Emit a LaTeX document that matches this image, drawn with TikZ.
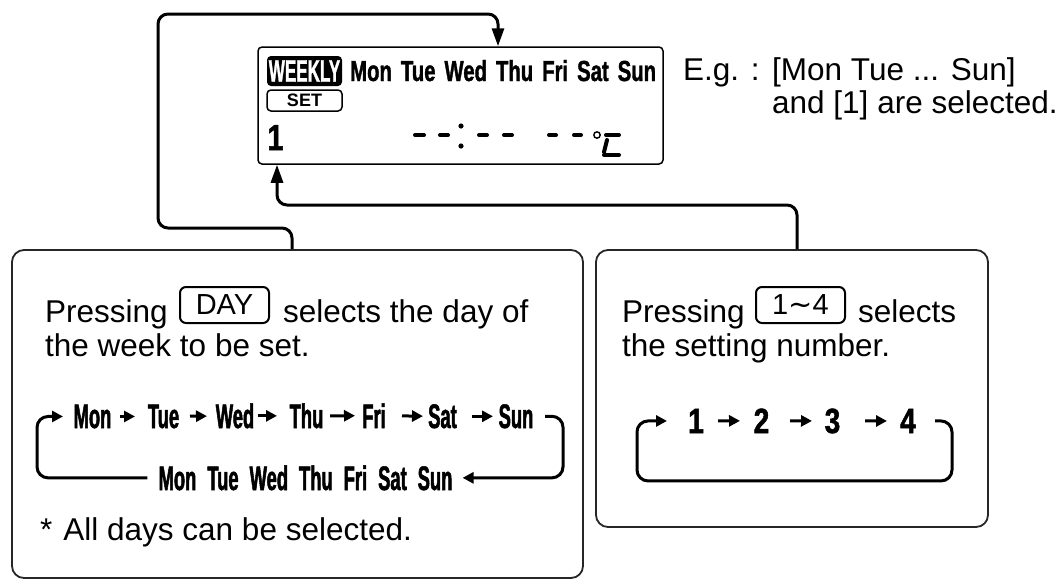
\documentclass[tikz,border=0pt]{standalone}
\usepackage{fontspec}
\setmainfont{Liberation Sans}
\newfontfamily\flowfont[FakeStretch=0.54,FakeBold=1.5]{Liberation Sans}
\newfontfamily\lcdfont[FakeStretch=0.7,FakeBold=1.2]{Liberation Sans}
\newfontfamily\wkfont[FakeStretch=0.55,FakeBold=1]{Liberation Sans}
\newfontfamily\digfont[FakeStretch=0.8,FakeBold=1.5]{Liberation Sans}
\newfontfamily\symfont{DejaVu Sans}
\usetikzlibrary{arrows.meta}
\begin{document}
\begin{tikzpicture}[x=1pt,y=-1pt,
  panel/.style={draw=black!85, line width=1.8pt, rounded corners=12pt, inner sep=0pt},
  keybox/.style={draw, line width=2pt, rounded corners=6pt, inner sep=0pt, minimum width=89pt, minimum height=36pt, font=\fontsize{29}{30}\selectfont},
  body/.style={anchor=base west, inner sep=0pt, font=\fontsize{31.5}{36}\selectfont},
  day/.style={anchor=base, inner sep=0pt, font=\flowfont\bfseries\fontsize{34}{34}\selectfont},
  digit/.style={anchor=base, inner sep=0pt, font=\digfont\bfseries\fontsize{35}{35}\selectfont},
  conn/.style={line width=3pt, rounded corners=10pt, -{Triangle[length=18pt,width=12pt]}},
  loopline/.style={line width=3pt, rounded corners=11pt, -{Triangle[length=11pt,width=11pt]}},
  flowarr/.style 2 args={line width=3pt, shorten <=#1, shorten >=#2, -{Triangle[length=11pt,width=11pt]}},
  seg/.style={line width=4pt, line cap=round}]
\useasboundingbox (0,0) rectangle (1063,587);

% panels
\node[panel, minimum width=571pt, minimum height=328pt] (lbox) at (297.5,414) {};
\node[panel, minimum width=392pt, minimum height=277pt] (rbox) at (792,388.5) {};
\node[draw, line width=1.5pt, rounded corners=4pt, minimum width=405pt, minimum height=117pt, inner sep=0pt] (lcd) at (460.5,105.5) {};

% LCD contents
\node[fill=black, rounded corners=4pt, minimum width=75pt, minimum height=30pt, inner sep=0pt, text=white, font=\wkfont\bfseries\fontsize{31}{31}\selectfont] (weekly) at (304.5,71) {WEEKLY};
\node[draw, line width=1.5pt, rounded corners=4pt, minimum width=75pt, minimum height=21pt, inner sep=0pt, font=\bfseries\fontsize{18}{18}\selectfont] (setbox) at (304.5,100.5) {SET};
\node[anchor=base west, inner sep=0pt, font=\lcdfont\bfseries\fontsize{29}{29}\selectfont] (lcddays) at (350,81) {\spaceskip=9pt Mon Tue Wed Thu Fri Sat Sun};
\node[digit, font=\digfont\bfseries\fontsize{36}{36}\selectfont] (setno) at (275.5,150) {1};
\draw[seg] (415,135)--(424,135);
\draw[seg] (440,135)--(448,135);
\fill (461,126) circle (2.6);
\fill (461,146) circle (2.6);
\draw[seg] (479,135)--(487,135);
\draw[seg] (504,135)--(512,135);
\draw[seg] (549,135)--(556,135);
\draw[seg] (574,135)--(581,135);
\draw[line width=1.4pt] (597,135) circle (3.2);
\draw[seg] (606,135)--(619,135);
\draw[seg] (607,140)--(604,152);
\draw[seg] (604,155)--(619,155);

% connectors
\coordinate (a0) at (292,0);
\coordinate (a1) at (158,228);
\coordinate (a2) at (498,14);
\draw[conn] (lbox.north -| a0) |- (a1) |- (a2) -- (lcd.north -| a2);
\coordinate (b0) at (797,0);
\coordinate (b1) at (277,205);
\draw[conn] (rbox.north -| b0) |- (b1) -- (lcd.south -| b1);

% example text
\node[body] (eg) at (683,80) {E.g. :};
\node[body] (eg2) at (772,80) {[Mon Tue ... Sun]};
\node[body] (eg3) at (772,113) {and [1] are selected.};

% left panel text
\node[body] (p1) at (45,322) {Pressing};
\node[keybox] (daykey) at (224.5,305) {DAY};
\node[body] (p1b) at (283,322) {selects the day of};
\node[body] (p2) at (45,356) {the week to be set.};
\node[body] (note) at (40,540) {*\hspace{11pt}All days can be selected.};

% day flow
\node[day] (mon) at (92.5,428) {Mon};
\node[day] (tue) at (163.5,428) {Tue};
\node[day] (wed) at (235,428) {Wed};
\node[day] (thu) at (306.5,428) {Thu};
\node[day] (fri) at (374,428) {Fri};
\node[day] (sat) at (442.5,428) {Sat};
\node[day] (sun) at (516,428) {Sun};
\node[day] (low) at (305.5,490) {\spaceskip=11pt Mon Tue Wed Thu Fri Sat Sun};
\draw[flowarr={27.5pt}{28.5pt}] (mon.center) -- (tue.center);
\draw[flowarr={26.5pt}{28pt}] (tue.center) -- (wed.center);
\draw[flowarr={23pt}{29.5pt}] (wed.center) -- (thu.center);
\draw[flowarr={23.5pt}{19pt}] (thu.center) -- (fri.center);
\draw[flowarr={28pt}{19.5pt}] (fri.center) -- (sat.center);
\draw[flowarr={29.5pt}{23pt}] (sat.center) -- (sun.center);
\draw[loopline] ([xshift=-11pt]low.west) -| ([xshift=-55.5pt]mon.center) -- ([xshift=-29.5pt]mon.center);
\draw[loopline] ([xshift=29pt]sun.center) -- ([xshift=47pt]sun.center) |- ([xshift=10pt]low.east);

% right panel text
\node[body] (p3) at (622,322) {Pressing};
\node[keybox] (numkey) at (800.5,305) {1{\symfont ∼}4};
\node[body] (p3b) at (858,322) {selects};
\node[body] (p4) at (622,356) {the setting number.};

% number flow
\node[digit] (n1) at (696,433) {1};
\node[digit] (n2) at (761.5,433) {2};
\node[digit] (n3) at (832.5,433) {3};
\node[digit] (n4) at (908,433) {4};
\draw[flowarr={22pt}{21.5pt}] (n1.center) -- (n2.center);
\draw[flowarr={28.5pt}{20.5pt}] (n2.center) -- (n3.center);
\draw[flowarr={32.5pt}{21pt}] (n3.center) -- (n4.center);
\draw[loopline] ([xshift=27pt]n4.center) -- ([xshift=44pt]n4.center) -- ++(0,60) -| ([xshift=-59pt]n1.center) -- ([xshift=-29pt]n1.center);
\end{tikzpicture}
\end{document}
